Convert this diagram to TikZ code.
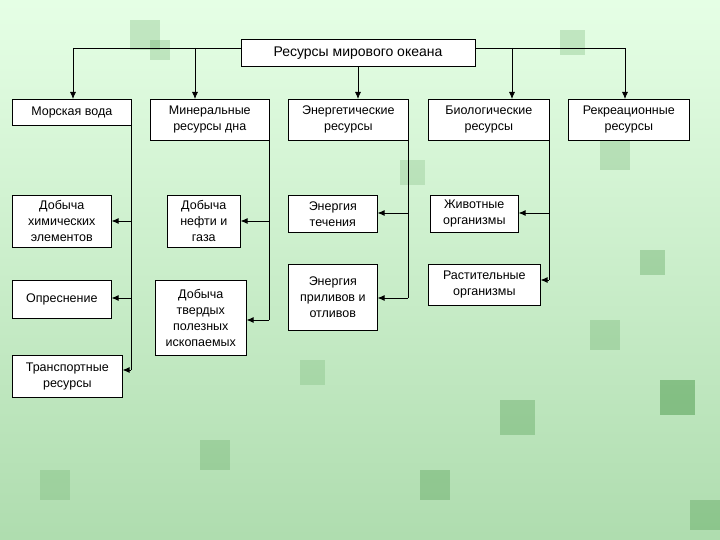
\documentclass[tikz,border=0pt]{standalone}
\usepackage{fontspec}
\setmainfont{Liberation Sans}
\usetikzlibrary{arrows.meta}
\begin{document}
\begin{tikzpicture}[x=1pt,y=-1pt,
  bx/.style={draw=black,line width=0.6pt,fill=white,align=center,font=\fontsize{12.5}{16}\selectfont,inner sep=1pt},
  ln/.style={line width=0.8pt},
  ar/.style={line width=0.8pt,-{Latex[length=7pt,width=6pt]}}]
\useasboundingbox (0,0) rectangle (720,540);
\shade[top color=green!10!white,bottom color=green!40!gray!45!white] (0,0) rectangle (720,540);
\foreach \x/\y/\s/\o in {130/20/30/0.15,560/30/25/0.15,600/140/30/0.15,660/380/35/0.3,690/500/30/0.2,590/320/30/0.15,420/470/30/0.2,300/360/25/0.12,200/440/30/0.15,40/470/30/0.12,500/400/35/0.2,640/250/25/0.2,150/40/20/0.15,400/160/25/0.12}
  \fill[green!40!black,opacity=\o] (\x,\y) rectangle ++(\s,\s);
\node[bx,minimum width=234,minimum height=27,font=\fontsize{14}{16}\selectfont] (t) at (358,53) {Ресурсы мирового океана};
\node[bx,minimum width=119,minimum height=26,anchor=north west] (a) at (12,99) {Морская вода};
\node[bx,minimum width=119,minimum height=41,anchor=north west] (b) at (150,99) {Минеральные\\ресурсы дна};
\node[bx,minimum width=120,minimum height=41,anchor=north west] (c) at (288,99) {Энергетические\\ресурсы};
\node[bx,minimum width=121,minimum height=41,anchor=north west] (d) at (428,99) {Биологические\\ресурсы};
\node[bx,minimum width=121,minimum height=41,anchor=north west] (e) at (568,99) {Рекреационные\\ресурсы};
\node[bx,minimum width=99,minimum height=52,anchor=north west] (a1) at (12,195) {Добыча\\химических\\элементов};
\node[bx,minimum width=99,minimum height=38,anchor=north west] (a2) at (12,280) {Опреснение};
\node[bx,minimum width=110,minimum height=42,anchor=north west] (a3) at (12,355) {Транспортные\\ресурсы};
\node[bx,minimum width=73,minimum height=52,anchor=north west] (b1) at (167,195) {Добыча\\нефти и\\газа};
\node[bx,minimum width=91,minimum height=75,anchor=north west] (b2) at (155,280) {Добыча\\твердых\\полезных\\ископаемых};
\node[bx,minimum width=89,minimum height=37,anchor=north west] (c1) at (288,195) {Энергия\\течения};
\node[bx,minimum width=89,minimum height=66,anchor=north west] (c2) at (288,264) {Энергия\\приливов и\\отливов};
\node[bx,minimum width=88,minimum height=37,anchor=north west] (d1) at (430,195) {Животные\\организмы};
\node[bx,minimum width=112,minimum height=41,anchor=north west] (d2) at (428,264) {Растительные\\организмы};
\coordinate (tl) at (73,48); \coordinate (tr) at (625,48);
\draw[ln] (t.west |- 0,48) -- (tl);
\draw[ln] (t.east |- 0,48) -- (tr);
\draw[ar] (tl) -- (a.north -| tl);
\draw[ar] (tr) -- (e.north -| tr);
\draw[ar] (195,48) -- (b.north -| 195,0);
\draw[ar] (512,48) -- (d.north -| 512,0);
\draw[ar] (t.south) -- (c.north -| t.south);
\draw[ln] (131,125) -- (131,370) coordinate (ae);
\draw[ar] (131,221) -- (a1.east |- 131,221);
\draw[ar] (131,298) -- (a2.east |- 131,298);
\draw[ar] (ae) -- (a3.east |- ae);
\draw[ln] (269,140) -- (269,320) coordinate (be);
\draw[ar] (269,221) -- (b1.east |- 269,221);
\draw[ar] (be) -- (b2.east |- be);
\draw[ln] (408,140) -- (408,298) coordinate (ce);
\draw[ar] (408,213) -- (c1.east |- 408,213);
\draw[ar] (ce) -- (c2.east |- ce);
\draw[ln] (549,140) -- (549,280) coordinate (de);
\draw[ar] (549,213) -- (d1.east |- 549,213);
\draw[ar] (de) -- (d2.east |- de);
\node[bx,minimum width=234,minimum height=27,font=\fontsize{14}{16}\selectfont] at (t) {Ресурсы мирового океана};
\end{tikzpicture}
\end{document}
